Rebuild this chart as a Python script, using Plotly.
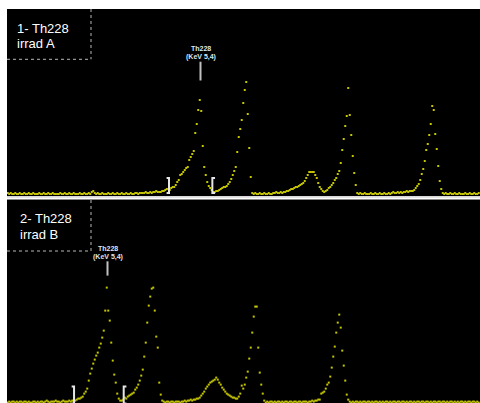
import plotly.graph_objects as go

# ---------------- data (counts per channel) ----------------
top_counts = [
    1, 0, 1, 0, 0, 1, 0, 0, 1, 0,
    0, 1, 0, 0, 1, 0, 0, 1, 0, 0,
    0, 1, 0, 0, 1, 0, 0, 1, 0, 0,
    1, 0, 0, 0, 0, 1, 0, 0, 1, 0,
    0, 1, 0, 0, 1, 0, 0, 0, 1, 0,
    0, 1, 0, 0, 1, 0, 2, 3, 1, 0,
    1, 0, 0, 1, 0, 0, 0, 1, 0, 0,
    1, 0, 0, 1, 0, 0, 1, 0, 0, 1,
    0, 0, 1, 0, 0, 1, 1, 0, 1, 1,
    1, 1, 2, 1, 1, 2, 1, 2, 2, 3,
    2, 2, 2, 3, 3, 4, 5, 5, 4, 6,
    7, 7, 9, 12, 14, 19, 20, 22, 24, 26,
    27, 34, 37, 40, 43, 61, 70, 84, 94, 83,
    48, 27, 19, 12, 8, 6, 4, 2, 2, 3,
    3, 4, 5, 6, 7, 7, 8, 10, 12, 15,
    19, 23, 27, 42, 57, 65, 74, 91, 104, 112,
    80, 46, 17, 1, 0, 1, 0, 0, 1, 0,
    0, 1, 0, 0, 1, 0, 0, 1, 1, 2,
    1, 1, 2, 1, 2, 2, 3, 3, 4, 5,
    5, 6, 7, 7, 8, 9, 10, 11, 13, 16,
    19, 22, 22, 22, 22, 19, 16, 11, 7, 5,
    3, 2, 3, 4, 6, 7, 9, 11, 14, 16,
    20, 23, 31, 44, 55, 68, 78, 106, 79, 59,
    38, 21, 9, 1, 0, 1, 0, 0, 1, 0,
    0, 0, 1, 0, 0, 1, 0, 0, 1, 0,
    0, 1, 0, 0, 1, 0, 1, 2, 1, 1,
    2, 1, 2, 1, 2, 2, 3, 2, 3, 3,
    3, 4, 6, 8, 10, 14, 20, 25, 33, 44,
    50, 59, 70, 88, 84, 60, 45, 28, 13, 5,
    1, 0, 1, 0, 0, 1, 0, 0, 1, 0,
    0, 1, 0, 0, 0, 1, 0, 0, 1, 0,
    0, 1, 0, 0, 1,
]

bottom_counts = [
    0, 1, 0, 1, 1, 0, 1, 0, 1, 1,
    0, 1, 1, 0, 1, 0, 0, 1, 1, 0,
    1, 0, 1, 1, 0, 1, 2, 1, 0, 1,
    1, 1, 2, 1, 1, 0, 1, 2, 1, 1,
    1, 2, 1, 2, 2, 2, 3, 4, 4, 5,
    6, 9, 11, 14, 22, 29, 34, 39, 43, 47,
    50, 55, 59, 65, 72, 92, 115, 92, 82, 60,
    42, 28, 20, 9, 4, 2, 2, 3, 5, 4,
    6, 7, 8, 9, 10, 13, 15, 18, 22, 27,
    33, 46, 60, 80, 97, 106, 114, 115, 92, 66,
    55, 20, 8, 2, 1, 0, 1, 1, 0, 1,
    1, 0, 1, 1, 1, 0, 1, 1, 2, 1,
    2, 2, 3, 2, 3, 3, 4, 4, 5, 7,
    9, 11, 14, 16, 18, 20, 21, 22, 23, 25,
    23, 20, 18, 15, 13, 11, 9, 8, 7, 6,
    5, 5, 4, 4, 6, 9, 17, 14, 18, 25,
    31, 44, 55, 70, 86, 96, 96, 55, 30, 18,
    9, 2, 0, 1, 0, 1, 1, 0, 1, 0,
    1, 1, 0, 1, 0, 1, 1, 0, 1, 1,
    0, 1, 1, 0, 1, 1, 0, 1, 1, 1,
    0, 1, 1, 2, 1, 2, 2, 3, 3, 9,
    10, 11, 14, 18, 20, 26, 35, 46, 56, 70,
    80, 88, 75, 52, 37, 22, 8, 3, 1, 0,
    1, 0, 1, 1, 0, 1, 0, 1, 1, 0,
    1, 1, 0, 1, 0, 1, 1, 0, 1, 0,
    1, 0, 1, 1, 0, 1, 0, 1, 1, 0,
    1, 1, 0, 1, 1, 0, 1, 0, 1, 1,
    0, 1, 0, 1, 1, 0, 1, 1, 0, 1,
    1, 0, 1, 0, 1, 1, 0, 1, 1, 0,
    1, 1, 0, 1, 0, 1, 1, 0, 1, 0,
    1, 0, 1, 1, 0, 1, 0, 1, 1, 0,
    1, 1, 0, 1, 0,
]

top_channels = list(range(len(top_counts)))
bottom_channels = list(range(len(bottom_counts)))

top_roi = [107.5, 136.4]          # region-of-interest limits (channels)
bottom_roi = [44.2, 77.3]
top_peak_channel = 128.5
bottom_peak_channel = 66.5
top_title = ["1- Th228", "irrad A"]
bottom_title = ["2- Th228", "irrad B"]
peak_label = ["Th228", "(KeV 5,4)"]

# ---------------- figure ----------------
W, H = 480, 403
ML, MT = 7, 9
PH = H - MT


def py(p):  # pixel row -> paper y
    return (H - p) / PH


def px(p):  # pixel column -> paper x
    return (p - ML) / (W - ML)


POINT = "#c4c400"
fig = go.Figure()
fig.add_trace(go.Scatter(x=top_channels, y=top_counts, mode="markers",
                         marker=dict(symbol="square", size=2, color=POINT, line=dict(width=0)),
                         xaxis="x", yaxis="y", hoverinfo="skip", showlegend=False))
fig.add_trace(go.Scatter(x=bottom_channels, y=bottom_counts, mode="markers",
                         marker=dict(symbol="square", size=2, color=POINT, line=dict(width=0)),
                         xaxis="x2", yaxis="y2", hoverinfo="skip", showlegend=False))

shapes = []
# separators between panels
shapes.append(dict(type="rect", xref="paper", yref="paper", x0=0, x1=1,
                   y0=py(197.6), y1=py(196.2), fillcolor="#cccccc", line=dict(width=0)))
shapes.append(dict(type="rect", xref="paper", yref="paper", x0=0, x1=1,
                   y0=py(200), y1=py(199), fillcolor="#8a8a8a", line=dict(width=0)))
# dotted title boxes
for top, bot in [(9, 59.3), (200, 251)]:
    shapes.append(dict(type="line", xref="paper", yref="paper", x0=px(91), x1=px(91),
                       y0=py(top), y1=py(bot), line=dict(color="#b8b8b8", width=1, dash="dot")))
    shapes.append(dict(type="line", xref="paper", yref="paper", x0=0, x1=px(91),
                       y0=py(bot), y1=py(bot), line=dict(color="#b8b8b8", width=1, dash="dot")))


def brackets(roi, xr, yr, y_lo, y_hi):
    a, b = roi
    return [
        dict(type="path", xref=xr, yref=yr,
             path=f"M {a-1.6},{y_hi} L {a},{y_hi} L {a},{y_lo} L {a-1.6},{y_lo}",
             line=dict(color="#e6e6e6", width=2)),
        dict(type="path", xref=xr, yref=yr,
             path=f"M {b+1.8},{y_hi} L {b},{y_hi} L {b},{y_lo} L {b+1.8},{y_lo}",
             line=dict(color="#e6e6e6", width=2)),
    ]


shapes += brackets(top_roi, "x", "y", 1, 16)
shapes += brackets(bottom_roi, "x2", "y2", -1, 16)
# peak marker lines
shapes.append(dict(type="line", xref="x", yref="y", x0=top_peak_channel, x1=top_peak_channel,
                   y0=113.5, y1=132.3, line=dict(color="#c0c0c0", width=2)))
shapes.append(dict(type="line", xref="x2", yref="y2", x0=bottom_peak_channel, x1=bottom_peak_channel,
                   y0=127, y1=141.3, line=dict(color="#c0c0c0", width=2)))

ann = []
TF = dict(family="Liberation Sans, Arial, sans-serif", size=13, color="#ffffff")
for (l1, l2), x0, y1, y2 in [(top_title, 15, 28.7, 43.7), (bottom_title, 18, 218.4, 234)]:
    ann.append(dict(text=l1, xref="paper", yref="paper", x=px(x0), y=py(y1),
                    xanchor="left", yanchor="middle", showarrow=False, font=TF))
    ann.append(dict(text=l2, xref="paper", yref="paper", x=px(x0), y=py(y2),
                    xanchor="left", yanchor="middle", showarrow=False, font=TF))

PF = dict(family="Liberation Sans, Arial, sans-serif", size=7, color="#dde5f0", weight=700)
ann.append(dict(text=peak_label[0], xref="x", yref="y", x=top_peak_channel, y=145.5,
                xanchor="center", yanchor="middle", showarrow=False, font=PF))
ann.append(dict(text=peak_label[1], xref="x", yref="y", x=top_peak_channel, y=137.5,
                xanchor="center", yanchor="middle", showarrow=False, font=PF))
ann.append(dict(text=peak_label[0], xref="x2", yref="y2", x=bottom_peak_channel, y=154,
                xanchor="center", yanchor="middle", showarrow=False, font=PF))
ann.append(dict(text=peak_label[1], xref="x2", yref="y2", x=bottom_peak_channel, y=146,
                xanchor="center", yanchor="middle", showarrow=False, font=PF))

hidden = dict(visible=False, showgrid=False, zeroline=False, fixedrange=True)
fig.update_layout(
    width=W, height=H,
    margin=dict(l=ML, r=0, t=MT, b=0, pad=0),
    paper_bgcolor="#ffffff", plot_bgcolor="#000000",
    xaxis=dict(domain=[0, 1], range=[-0.5, 314.833], anchor="y", **hidden),
    yaxis=dict(domain=[py(196), 1], range=[-2, 185], anchor="x", **hidden),
    xaxis2=dict(domain=[0, 1], range=[-0.5, 314.833], anchor="y2", **hidden),
    yaxis2=dict(domain=[0, py(200)], range=[-0.4, 202.6], anchor="x2", **hidden),
    shapes=shapes, annotations=ann, showlegend=False,
)

fig.write_html("out.html", config={"displayModeBar": False},
               post_script="document.body.style.margin='0';document.body.style.overflow='hidden';")
